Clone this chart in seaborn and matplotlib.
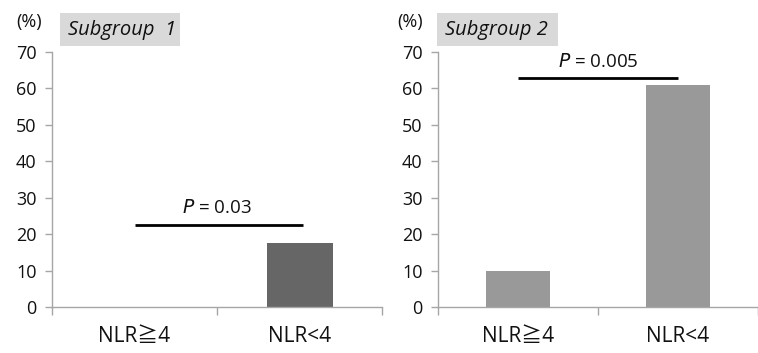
import matplotlib
matplotlib.use("Agg")
import matplotlib.pyplot as plt
import seaborn as sns
import pandas as pd
from matplotlib.patches import Rectangle

categories = ["NLR≧4", "NLR<4"]
subgroup1_values = [0.0, 17.6]
subgroup2_values = [10.0, 61.0]
panel_titles = ["Subgroup  1", "Subgroup 2"]
p_texts = ["0.03", "0.005"]
p_line_y = [22.6, 62.8]
yticks = [0, 10, 20, 30, 40, 50, 60, 70]
bar_colors = ["#666666", "#999999"]

sns.set_theme(style="white")
plt.rcParams['font.family'] = ['Open Sans', 'Noto Sans CJK JP', 'DejaVu Sans']

fig = plt.figure(figsize=(7.58, 3.53), dpi=100)
W, H = 758, 353
ax_specs = [
    (52, 382, 1.5),
    (438, 758, 1.44),
]
panels = [subgroup1_values, subgroup2_values]
spine_col = "#a6a6a6"

for i, (vals, (x0, x1, xmax)) in enumerate(zip(panels, ax_specs)):
    ax = fig.add_axes([x0 / W, 1 - 307 / H, (x1 - x0) / W, 255 / H])
    df = pd.DataFrame({"cat": categories, "val": vals})
    sns.barplot(data=df, x="cat", y="val", order=categories, color=bar_colors[i],
                width=0.4, saturation=1, ax=ax, edgecolor="none")
    ax.set_xlim(-0.5, xmax)
    ax.set_ylim(0, 70)
    ax.set_yticks(yticks)
    ax.set_xlabel("")
    ax.set_ylabel("")
    for s in ["top", "right"]:
        ax.spines[s].set_visible(False)
    for s in ["left", "bottom"]:
        ax.spines[s].set_color(spine_col)
        ax.spines[s].set_linewidth(1.0)
    ax.tick_params(axis="y", which="major", left=True, length=5, width=1,
                   color=spine_col, labelsize=13, labelcolor="#111111", pad=6)
    ax.set_xticks([0, 1])
    ax.set_xticklabels(categories, fontsize=15, color="#111111")
    ax.tick_params(axis="x", which="major", bottom=False, pad=8)
    ax.set_xticks([-0.5, 0.5, 1.5], minor=True)
    ax.tick_params(axis="x", which="minor", bottom=True, length=6, width=1,
                   color=spine_col)
    ax.set_facecolor("white")
    # significance line
    ax.plot([0, 1.02 if i == 0 else 1.0], [p_line_y[i]] * 2, color="black",
            lw=2, solid_capstyle="butt", clip_on=False)
    ax.text(0.5, p_line_y[i] + 2.0, "$P$ = " + p_texts[i], ha="center",
            va="bottom", fontsize=13.5, color="#111111")

# subgroup label boxes and (%) labels
boxes = [(60, 180), (437, 558)]
pct_x = [29, 410]
for i, (bx0, bx1) in enumerate(boxes):
    fig.patches.append(Rectangle((bx0 / W, 1 - 46 / H), (bx1 - bx0) / W, 33 / H,
                                 transform=fig.transFigure, facecolor="#d9d9d9",
                                 edgecolor="none"))
    fig.text((bx0 + 8) / W, 1 - 30 / H, panel_titles[i], style="italic",
             fontsize=14.5, va="center", ha="left", color="#111111")
    fig.text(pct_x[i] / W, 1 - 22 / H, "(%)", fontsize=13, ha="center",
             va="center", color="#111111")

fig.savefig("out.png", dpi=100, facecolor="white")
